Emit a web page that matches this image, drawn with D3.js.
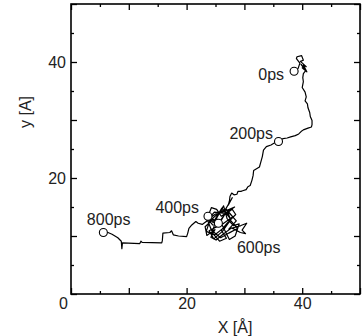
<!DOCTYPE html>
<html>
<head>
<meta charset="utf-8">
<script src="https://cdn.jsdelivr.net/npm/d3@7"></script>
<style>
  body { margin: 0; background: #fff; }
  svg { display: block; font-family: "Liberation Sans", Arial, sans-serif; }
  .axis path { display: none; }
  .axis line { stroke: #000; stroke-width: 1.3; }
  .axis text { font-size: 16px; fill: #222; }
  .traj { fill: none; stroke: #000; stroke-width: 1.2; stroke-linejoin: round; }
  .marker { fill: #fff; stroke: #000; stroke-width: 1.1; }
  .note { font-size: 16px; fill: #222; }
</style>
</head>
<body>
<div id="chart"></div>
<script>
// trajectory of the particle, [x, y] in Angstrom, from 0ps to 800ps
var trajX = [38.6, 39.3, 39.6, 39.0, 39.1, 39.9, 40.2, 39.7, 40.7, 40.2, 40.8, 40.0, 40.5, 39.8, 40.6, 40.2, 40.1,
  40.2, 40.0, 40.5, 40.7, 40.5, 40.9, 41.0, 41.3, 41.4, 41.7, 41.7, 41.6, 41.0, 40.2, 39.8, 39.4,
  38.8, 38.0, 37.4, 36.7, 35.9,
  35.1, 34.6, 33.8, 33.3, 33.1, 32.8, 32.6, 32.1, 31.6, 31.5, 31.3, 31.0, 30.6, 30.3, 29.7, 29.4,
  28.9, 28.7, 28.2, 27.8, 27.5, 27.4, 27.2,
  27.9, 26.5, 28.3, 26.0, 25.2, 24.3, 23.7, 24.6, 26.1, 27.5, 27.0, 28.6, 27.3, 29.4, 30.4, 29.6,
  30.2, 29.3, 27.8, 26.3, 25.1, 24.2, 24.9, 23.5, 23.2, 24.6, 25.5, 26.5, 27.9, 28.5, 27.1, 26.0,
  26.9, 25.7, 24.4, 25.3, 26.4, 27.0, 28.1, 29.1, 28.4, 27.4, 26.1, 24.1, 23.3,
  24.8, 26.7, 25.4, 23.9, 24.7, 26.2, 27.7, 26.6, 25.0, 23.6, 24.3, 25.9, 27.3, 28.8, 27.6, 26.4,
  24.9, 23.4, 24.0, 25.6, 26.8, 28.0, 26.3, 24.5, 23.8, 22.7,
  22.0, 21.6, 20.9, 20.4, 20.2, 20.0, 18.6, 17.7, 17.4, 17.1, 15.9, 15.8, 15.7, 12.3, 12.1, 11.9,
  8.9, 8.8, 8.7, 8.1, 7.1, 6.4, 5.6];
var trajY = [38.4, 38.9, 39.8, 40.6, 40.9, 41.1, 40.3, 40.1, 39.2, 39.5, 38.3, 39.0, 38.8, 39.6, 38.5, 38.0, 37.3,
  36.6, 35.6, 34.8, 34.0, 33.3, 32.8, 32.1, 31.3, 30.6, 29.9, 29.2, 28.8, 28.6, 28.3, 28.0, 27.6,
  27.3, 27.1, 26.9, 26.8, 26.3,
  26.0, 25.7, 25.4, 24.8, 23.7, 22.6, 21.9, 21.6, 21.3, 20.4, 19.6, 18.7, 18.5, 18.0, 17.8, 17.7,
  17.7, 17.2, 17.1, 17.4, 16.8, 16.0, 15.3,
  16.6, 14.2, 15.0, 13.4, 14.6, 14.9, 13.4, 12.3, 14.8, 13.1, 14.4, 12.6, 11.2, 11.8, 12.2, 11.0,
  10.4, 10.6, 11.4, 10.3, 9.3, 9.8, 11.1, 10.1, 11.6, 12.9, 12.2, 13.6, 14.6, 13.7, 12.3, 11.0,
  9.6, 9.1, 10.6, 13.3, 15.2, 13.0, 11.8, 12.1, 10.0, 9.4, 12.0, 13.0, 12.4,
  14.1, 13.9, 11.7, 10.9, 9.5, 10.8, 12.9, 14.3, 13.8, 12.8, 11.0, 9.7, 10.5, 11.3, 12.7, 11.4,
  10.2, 10.8, 12.6, 14.0, 14.7, 13.3, 12.1, 11.9, 12.8, 12.0,
  12.2, 12.5, 11.9, 11.3, 10.5, 9.9, 10.0, 10.2, 10.9, 10.6, 10.5, 9.2, 8.8, 8.9, 9.1, 8.7,
  8.8, 7.8, 9.1, 9.7, 10.3, 10.6, 10.6];

// time markers on the trajectory
var markerLabels = ["0ps", "200ps", "400ps", "600ps", "800ps"];
var markerX = [38.6, 35.9, 23.7, 25.5, 5.6];
var markerY = [38.4, 26.3, 13.4, 12.2, 10.6];

// tick values
var labelTicks = [0, 20, 40];
var majorTicks = [0, 10, 20, 30, 40, 50];
var minorTicks = [5, 15, 25, 35, 45];

var margin = {top: 4, right: 2, bottom: 42, left: 71};
var width = 362 - margin.left - margin.right;
var height = 336 - margin.top - margin.bottom;

// where each marker label sits relative to its circle (px) and its anchor
var noteOffsets = [[-10, 8.5, "end"], [-5.5, -2.7, "end"], [-9, -3, "end"], [18.5, 30, "start"], [-16.5, -7.7, "start"]];

var svg = d3.select("#chart").append("svg")
    .attr("width", 362)
    .attr("height", 336)
  .append("g")
    .attr("transform", "translate(" + margin.left + "," + margin.top + ")");

var x = d3.scaleLinear().domain([0, 50]).range([0, width]);
var y = d3.scaleLinear().domain([0, 50]).range([height, 0]);

// inward ticks on all four sides: major every 10 (6px), minor every 5 (3px)
function sides() {
  return [
    [d3.axisBottom(x), "translate(0," + height + ")"],
    [d3.axisTop(x), "translate(0,0)"],
    [d3.axisLeft(y), "translate(0,0)"],
    [d3.axisRight(y), "translate(" + width + ",0)"]
  ];
}
[[majorTicks, 6], [minorTicks, 3]].forEach(function(t) {
  sides().forEach(function(s) {
    svg.append("g").attr("class", "axis").attr("transform", s[1])
      .call(s[0].tickValues(t[0]).tickSize(-t[1]).tickFormat(""));
  });
});

// tick labels
var xLab = svg.append("g").attr("class", "axis")
    .attr("transform", "translate(0," + height + ")")
    .call(d3.axisBottom(x).tickValues(labelTicks).tickSize(0).tickPadding(4));
xLab.selectAll(".tick text").attr("dx", function(d) { return d === 0 ? -8 : 0; });

svg.append("g").attr("class", "axis")
    .call(d3.axisLeft(y).tickValues(labelTicks.filter(function(d) { return d > 0; }))
      .tickSize(0).tickPadding(5));

// frame
svg.append("rect")
    .attr("width", width).attr("height", height)
    .attr("fill", "none").attr("stroke", "#000").attr("stroke-width", 1.6);

// axis titles
svg.append("text")
    .attr("class", "note")
    .attr("text-anchor", "middle")
    .attr("x", 164).attr("y", height + 39)
    .text("X [Å]");
svg.append("text")
    .attr("class", "note")
    .attr("text-anchor", "middle")
    .attr("transform", "translate(-40,108) rotate(-90)")
    .text("y [A]");

// the trajectory
var line = d3.line()
    .x(function(d) { return x(trajX[d]); })
    .y(function(d) { return y(trajY[d]); });

svg.append("path")
    .datum(d3.range(trajX.length))
    .attr("class", "traj")
    .attr("d", line);

// time markers
svg.selectAll(".marker")
    .data(markerLabels)
  .enter().append("circle")
    .attr("class", "marker")
    .attr("cx", function(d, i) { return x(markerX[i]); })
    .attr("cy", function(d, i) { return y(markerY[i]); })
    .attr("r", 4);

svg.selectAll(".mlabel")
    .data(markerLabels)
  .enter().append("text")
    .attr("class", "note")
    .attr("x", function(d, i) { return x(markerX[i]) + noteOffsets[i][0]; })
    .attr("y", function(d, i) { return y(markerY[i]) + noteOffsets[i][1]; })
    .attr("text-anchor", function(d, i) { return noteOffsets[i][2]; })
    .text(function(d) { return d; });
</script>
</body>
</html>
